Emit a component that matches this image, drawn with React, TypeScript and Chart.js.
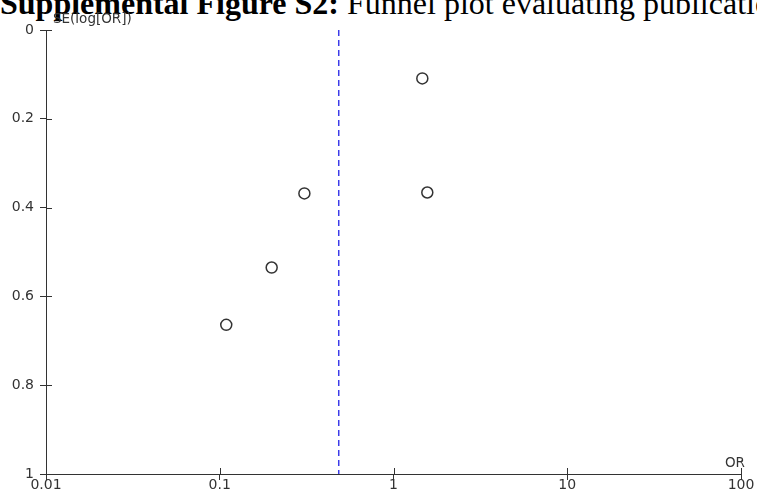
import React, { useEffect, useRef } from "react";
import { Chart, registerables } from "chart.js";

Chart.register(...registerables);

const studyOR: number[] = [1.465, 0.307, 1.565, 0.199, 0.109];
const studySE: number[] = [0.109, 0.368, 0.366, 0.535, 0.664];
const pooledOR = 0.484;
const xTickValues: number[] = [0.01, 0.1, 1, 10, 100];
const yTickValues: number[] = [0, 0.2, 0.4, 0.6, 0.8, 1];
const yAxisTitle = "SE(log[OR])";
const xAxisTitle = "OR";
const titleBold = "Supplemental Figure S2:";
const titleRest = " Funnel plot evaluating publication bias";

const FONT = "DejaVu Sans";
const AXIS_COLOR = "#333333";

export default function App() {
  const ref = useRef<HTMLCanvasElement | null>(null);

  useEffect(() => {
    if (!ref.current) return;
    const innerTicks = {
      id: "innerTicks",
      afterDraw(chart: any) {
        const ctx = chart.ctx;
        const xs = chart.scales.x;
        const ys = chart.scales.y;
        const area = chart.chartArea;
        ctx.save();
        ctx.strokeStyle = AXIS_COLOR;
        ctx.lineWidth = 1;
        ctx.beginPath();
        xTickValues.forEach((v) => {
          const px = Math.round(xs.getPixelForValue(v)) + 0.5;
          ctx.moveTo(px, area.bottom);
          ctx.lineTo(px, area.bottom - 6);
        });
        yTickValues.forEach((v) => {
          const py = Math.round(ys.getPixelForValue(v)) + 0.5;
          ctx.moveTo(area.left, py);
          ctx.lineTo(area.left + 6, py);
        });
        ctx.stroke();
        ctx.fillStyle = AXIS_COLOR;
        ctx.font = `13.5px "${FONT}"`;
        ctx.textBaseline = "middle";
        ctx.textAlign = "left";
        ctx.fillText(yAxisTitle, area.left + 7, area.top - 11);
        ctx.textAlign = "center";
        ctx.fillText(xAxisTitle, area.right - 6, area.bottom - 11);
        ctx.restore();
      },
    };

    const chart = new Chart(ref.current, {
      type: "scatter",
      data: {
        datasets: [
          {
            type: "line",
            label: "pooled",
            data: [
              { x: pooledOR, y: 0 },
              { x: pooledOR, y: 1 },
            ],
            borderColor: "#3b3be8",
            borderWidth: 1.5,
            borderDash: [6, 4],
            pointRadius: 0,
            fill: false,
          },
          {
            label: "studies",
            data: studyOR.map((o, i) => ({ x: o, y: studySE[i] })),
            pointRadius: 5.5,
            pointBorderWidth: 1.5,
            borderColor: "#333333",
            backgroundColor: "#ffffff",
            pointStyle: "circle",
          },
        ],
      },
      options: {
        animation: false,
        responsive: false,
        devicePixelRatio: 1,
        layout: { padding: { top: 30, right: 16, left: 0, bottom: 0 } },
        plugins: {
          legend: { display: false },
          tooltip: { enabled: false },
          title: { display: false },
        },
        scales: {
          x: {
            type: "logarithmic",
            min: 0.01,
            max: 100,
            afterBuildTicks: (scale: any) => {
              scale.ticks = xTickValues.map((v) => ({ value: v }));
            },
            afterFit: (scale: any) => {
              scale.height = 26;
            },
            ticks: {
              autoSkip: false,
              maxRotation: 0,
              padding: -3,
              color: AXIS_COLOR,
              font: { family: FONT, size: 14 },
              callback: (v: any) => String(v),
            },
            grid: {
              display: true,
              drawOnChartArea: false,
              drawTicks: true,
              tickLength: 6,
              color: AXIS_COLOR,
            },
            border: { display: true, color: AXIS_COLOR, width: 1 },
          },
          y: {
            type: "linear",
            reverse: true,
            min: 0,
            max: 1,
            afterBuildTicks: (scale: any) => {
              scale.ticks = yTickValues.map((v) => ({ value: v }));
            },
            afterFit: (scale: any) => {
              scale.width = 46;
            },
            ticks: {
              autoSkip: false,
              padding: 6,
              color: AXIS_COLOR,
              font: { family: FONT, size: 14 },
              callback: (v: any) => String(parseFloat(Number(v).toFixed(2))),
            },
            grid: {
              display: true,
              drawOnChartArea: false,
              drawTicks: true,
              tickLength: 6,
              color: AXIS_COLOR,
            },
            border: { display: true, color: AXIS_COLOR, width: 1 },
          },
        },
      },
      plugins: [innerTicks],
    } as any);
    return () => chart.destroy();
  }, []);

  return (
    <div
      style={{
        position: "fixed",
        left: 0,
        top: 0,
        width: 757,
        height: 500,
        overflow: "hidden",
        background: "#ffffff",
      }}
    >
      <div
        style={{
          position: "absolute",
          left: 0,
          top: -13,
          fontFamily: '"Liberation Serif", "Times New Roman", serif',
          fontSize: 32,
          lineHeight: "32px",
          whiteSpace: "nowrap",
          color: "#000",
        }}
      >
        <b>{titleBold}</b>
        <span>{titleRest}</span>
      </div>
      <canvas
        ref={ref}
        width={757}
        height={500}
        style={{ position: "absolute", left: 0, top: 0, width: 757, height: 500 }}
      />
    </div>
  );
}
